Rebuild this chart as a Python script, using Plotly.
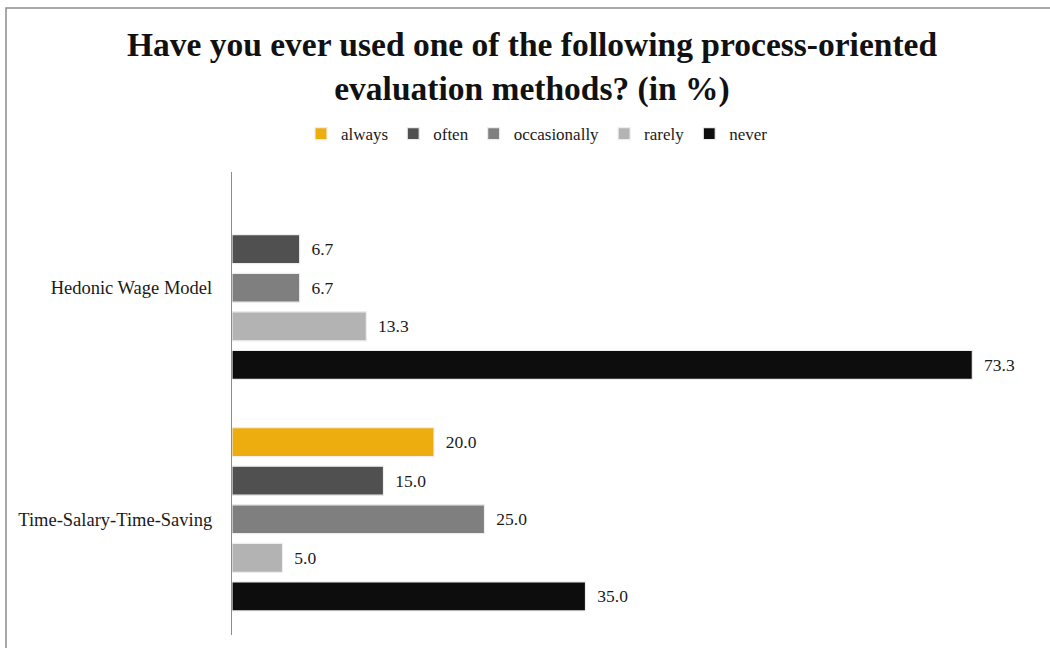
import plotly.graph_objects as go

# Survey results (share of respondents, in %)
methods = ["Time-Salary-Time-Saving", "Hedonic Wage Model"]
answers = ["always", "often", "occasionally", "rarely", "never"]
always = [20.0, None]
often = [15.0, 6.7]
occasionally = [25.0, 6.7]
rarely = [5.0, 13.3]
never = [35.0, 73.3]

colors = {
    "always": "#EEAD0E",
    "often": "#505050",
    "occasionally": "#7F7F7F",
    "rarely": "#B3B3B3",
    "never": "#0D0D0D",
}
series = {
    "always": always,
    "often": often,
    "occasionally": occasionally,
    "rarely": rarely,
    "never": never,
}

SERIF = "Book Antiqua, Palatino Linotype, Liberation Serif, serif"

fig = go.Figure()
# Added bottom-up so that "always" sits at the top of each group
for name in reversed(answers):
    vals = series[name]
    fig.add_trace(go.Bar(
        name=name,
        y=methods,
        x=vals,
        orientation="h",
        marker=dict(color=colors[name], line=dict(color="#EDEDED", width=1.2)),
        text=[None if v is None else "\u00a0\u00a0%.1f" % v for v in vals],
        textposition="outside",
        textfont=dict(family=SERIF, size=17.5, color="#1a1a1a"),
        cliponaxis=False,
        hoverinfo="skip",
    ))

# Layout geometry (pixels)
W, H = 1050, 648
L, R, T, B = 232, 10, 172, 13
pw, ph = W - L - R, H - T - B

def px_x(x):
    return (x - L) / pw

def px_y(y):
    return 1 - (y - T) / ph

# Chart frame along the top and left edges
fig.add_shape(
    type="path",
    xref="paper", yref="paper",
    path=f"M {px_x(6)} {px_y(700)} L {px_x(6)} {px_y(8)} L {px_x(1100)} {px_y(8)}",
    line=dict(color="#8C8C8C", width=1.5),
    layer="above",
)

fig.update_layout(
    width=W, height=H,
    margin=dict(l=L, r=R, t=T, b=B),
    paper_bgcolor="white",
    plot_bgcolor="white",
    barmode="group",
    bargap=0.1667,
    bargroupgap=0.25,
    showlegend=True,
    title=dict(
        text="<b>Have you ever used one of the following process-oriented<br>evaluation methods? (in %)</b>",
        x=532 / W, xref="container", xanchor="center",
        y=1 - 56 / H, yref="container", yanchor="middle",
        font=dict(family=SERIF, size=33.5, color="#111111"),
    ),
    legend=dict(
        orientation="h",
        traceorder="reversed",
        x=px_x(537), xanchor="center",
        y=px_y(134), yanchor="middle",
        font=dict(family=SERIF, size=17, color="#1a1a1a"),
        itemwidth=30,
        bgcolor="rgba(0,0,0,0)",
    ),
    xaxis=dict(
        range=[0, 80],
        showgrid=False,
        zeroline=False,
        showline=False,
        showticklabels=False,
        ticks="",
    ),
    yaxis=dict(
        range=[-0.5, 1.5],
        showgrid=False,
        zeroline=False,
        showline=True,
        linecolor="#8C8C8C",
        linewidth=1.2,
        ticks="",
        ticklabelstandoff=15,
        tickfont=dict(family=SERIF, size=18.5, color="#1a1a1a"),
    ),
)

fig.write_html("out.html")
